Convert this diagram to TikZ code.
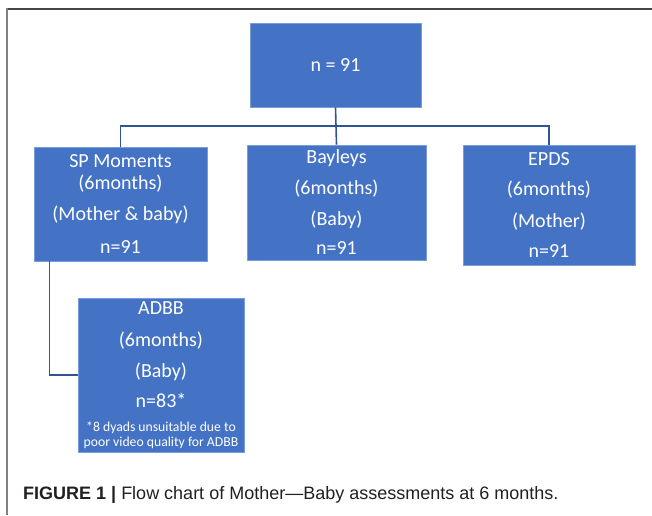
\documentclass[tikz,border=0pt]{standalone}
\usepackage{fontspec}
\setmainfont{Carlito}
\newfontfamily\capfont{Liberation Sans}
\usetikzlibrary{positioning,calc}

\definecolor{boxblue}{RGB}{68,114,196}
\definecolor{boxedge}{RGB}{120,158,218}
\definecolor{linkblue}{RGB}{47,85,151}
\definecolor{framegray}{RGB}{70,70,70}
\definecolor{capgray}{RGB}{35,31,32}

\begin{document}
\begin{tikzpicture}[x=1pt,y=-1pt,
  box/.style={fill=boxblue,draw=boxedge,line width=0.7pt,text=white,align=center,inner sep=0pt,font=\fontsize{20}{24}\selectfont},
  link/.style={draw=linkblue,line width=1.6pt}]
 \pgfmathsetmacro{\busy}{126} % height of the line joining the three boxes
 \def\smallnote{\fontsize{13.7}{15}\selectfont}

\useasboundingbox (0,0) rectangle (652,515);

% frame round the figure (open at the right and bottom)
\begin{scope}[line width=2pt]
  \draw[framegray] (6,8.5) -- (652,8.5);
  \draw[gray] (7,8) -- (7,515);
\end{scope}

% boxes
\node[box,minimum width=171pt,minimum height=84pt] (total) at (335.5,65) {n = 91};
\node[box,minimum width=173pt,minimum height=114pt] (sp) at (120.5,204)
  {SP Moments\\[-2pt](6months)\\[7pt](Mother \& baby)\\[9pt]n=91};
\node[box,minimum width=179pt,minimum height=115pt] (bayleys) at (336.5,202.5)
  {Bayleys\\[7pt](6months)\\[7pt](Baby)\\[5pt]n=91};
\node[box,minimum width=172pt,minimum height=120pt] (epds) at (549,205)
  {EPDS\\[6pt](6months)\\[8pt](Mother)\\[6pt]n=91};
\node[box,minimum width=166pt,minimum height=154pt] (adbb) at (161,375)
  {ADBB\\[8pt](6months)\\[7pt](Baby)\\[6pt]n=83*\\[-0.5pt]
   {\smallnote *8 dyads unsuitable due to}\\[-9pt]{\smallnote poor video quality for ADBB}};

% connectors
\coordinate (bus) at (336.5,\busy);
\begin{scope}[link]
  \draw (total.south) -- (bayleys.north);
  \draw (sp.north) |- (bus) -| (epds.north);
  \draw ([xshift=16pt]sp.south west) |- (adbb.west);
\end{scope}

% caption
\node[anchor=base west,inner sep=0pt,text=capgray,font=\capfont\fontsize{18}{21}\selectfont] (caption) at (23,499)
  {\textbf{FIGURE 1 |} Flow chart of Mother—Baby assessments at 6 months.};

\end{tikzpicture}
\end{document}
